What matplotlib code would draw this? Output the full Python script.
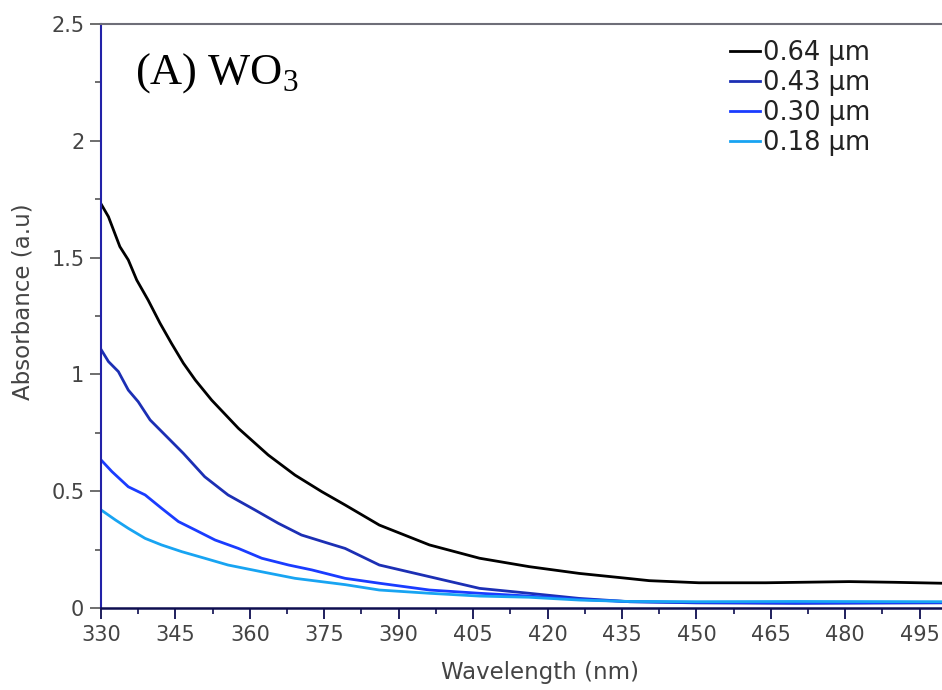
import matplotlib
matplotlib.use("Agg")
import matplotlib.pyplot as plt
from matplotlib.ticker import MultipleLocator

plt.rcParams["font.family"] = ["DejaVu Sans"]
plt.rcParams["mathtext.fontset"] = "custom"
plt.rcParams["mathtext.rm"] = "Liberation Serif"

# Absorbance spectra of WO3 films of different thickness
wl_064 = [330, 331.5, 333.8, 335.5, 337.2, 339.5, 341.9, 344.2, 346.6, 349, 352.3, 357.7,
          363.7, 369.1, 374.5, 379.2, 386.1, 396.2, 406.3, 416.3, 426.4, 436.5, 440.5,
          450.5, 464, 480.8, 490, 499.5]
abs_064 = [1.73, 1.675, 1.547, 1.49, 1.404, 1.318, 1.219, 1.133, 1.048, 0.976, 0.89, 0.769,
           0.655, 0.569, 0.498, 0.441, 0.355, 0.27, 0.213, 0.177, 0.148, 0.126, 0.117,
           0.108, 0.108, 0.113, 0.110, 0.106]

wl_043 = [330, 331.5, 333.5, 335.5, 337.5, 339.9, 342.9, 346.6, 350.9, 355.6, 361, 365.7,
          370.4, 375.8, 379.2, 386.1, 396.2, 406.3, 416.3, 426.4, 436.5, 450, 470, 499.5]
abs_043 = [1.107, 1.055, 1.012, 0.933, 0.883, 0.805, 0.741, 0.662, 0.562, 0.484, 0.42, 0.363,
           0.3125, 0.277, 0.255, 0.184, 0.134, 0.084, 0.063, 0.041, 0.027, 0.022, 0.020, 0.022]

wl_030 = [330, 332.2, 335.5, 338.9, 342.2, 345.6, 349, 353, 357.7, 362.4, 367.8, 372.5,
          379.2, 386.1, 396.2, 406.3, 416.3, 426.4, 436.5, 450, 470, 499.5]
abs_030 = [0.634, 0.584, 0.519, 0.484, 0.427, 0.37, 0.334, 0.291, 0.255, 0.213, 0.184, 0.163,
           0.127, 0.106, 0.077, 0.063, 0.051, 0.037, 0.027, 0.024, 0.022, 0.024]

wl_018 = [330, 332.9, 335.5, 338.9, 342.2, 346.3, 350.9, 355.6, 362.4, 369.1, 379.2, 386.1,
          396.2, 406.3, 416.3, 426.4, 436.5, 450, 470, 499.5]
abs_018 = [0.42, 0.377, 0.341, 0.298, 0.27, 0.241, 0.213, 0.184, 0.155, 0.127, 0.1, 0.077,
           0.063, 0.051, 0.046, 0.034, 0.028, 0.027, 0.028, 0.027]

labels = ["0.64 µm", "0.43 µm", "0.30 µm", "0.18 µm"]
colors = ["#000000", "#1c2fb4", "#1a3cff", "#18a4f2"]

W, H = 942, 690
fig = plt.figure(figsize=(W / 100, H / 100), dpi=100)
ax = fig.add_axes([101 / W, 82 / H, 841 / W, 584 / H])

series = [(wl_064, abs_064), (wl_043, abs_043), (wl_030, abs_030), (wl_018, abs_018)]
for (x, y), lab, c in zip(series, labels, colors):
    ax.plot(x, y, color=c, lw=2.0, label=lab)

ax.set_xlim(330, 499.5)
ax.set_ylim(0, 2.5)
ax.xaxis.set_major_locator(MultipleLocator(15))
ax.xaxis.set_minor_locator(MultipleLocator(7.5))
ax.yaxis.set_minor_locator(MultipleLocator(0.25))
ax.set_yticks([0, 0.5, 1, 1.5, 2, 2.5])
ax.set_yticklabels(["0", "0.5", "1", "1.5", "2", "2.5"])

ax.spines["right"].set_visible(False)
ax.spines["left"].set_color("#2222a8")
ax.spines["left"].set_linewidth(1.5)
ax.spines["bottom"].set_color("#0e0e50")
ax.spines["bottom"].set_linewidth(1.8)
ax.spines["top"].set_color("#6e6e78")
ax.spines["top"].set_linewidth(1.5)

ax.tick_params(axis="x", which="major", direction="out", length=8, width=1.3,
               color="#0e0e50", labelsize=15, labelcolor="#444444", pad=4)
ax.tick_params(axis="x", which="minor", direction="out", length=4, width=1.2, color="#0e0e50")
ax.tick_params(axis="y", which="major", direction="out", length=8, width=1.2,
               color="#555555", labelsize=15, labelcolor="#444444", pad=4)
ax.tick_params(axis="y", which="minor", direction="out", length=4, width=1.2, color="#555555")

ax.set_xlabel("Wavelength (nm)", fontsize=16.5, color="#444444")
ax.set_ylabel("Absorbance (a.u)", fontsize=16.5, color="#444444")
ax.xaxis.set_label_coords((540 - 101) / 841, -0.09)
ax.yaxis.set_label_coords(-0.079, (608 - 302) / 584)

ax.text(135 / W, 1 - 84 / H, "(A) WO$_3$", transform=fig.transFigure, fontsize=32,
        family="Liberation Serif", color="black", ha="left", va="baseline")

leg = fig.legend(loc="upper left", bbox_to_anchor=(730 / W, 1 - 40 / H), frameon=False,
                 fontsize=18.5, handlelength=1.15, handletextpad=0.12, labelspacing=0.15,
                 borderaxespad=0, borderpad=0)
for t in leg.get_texts():
    t.set_color("#222222")

fig.savefig("out.png", dpi=100)
